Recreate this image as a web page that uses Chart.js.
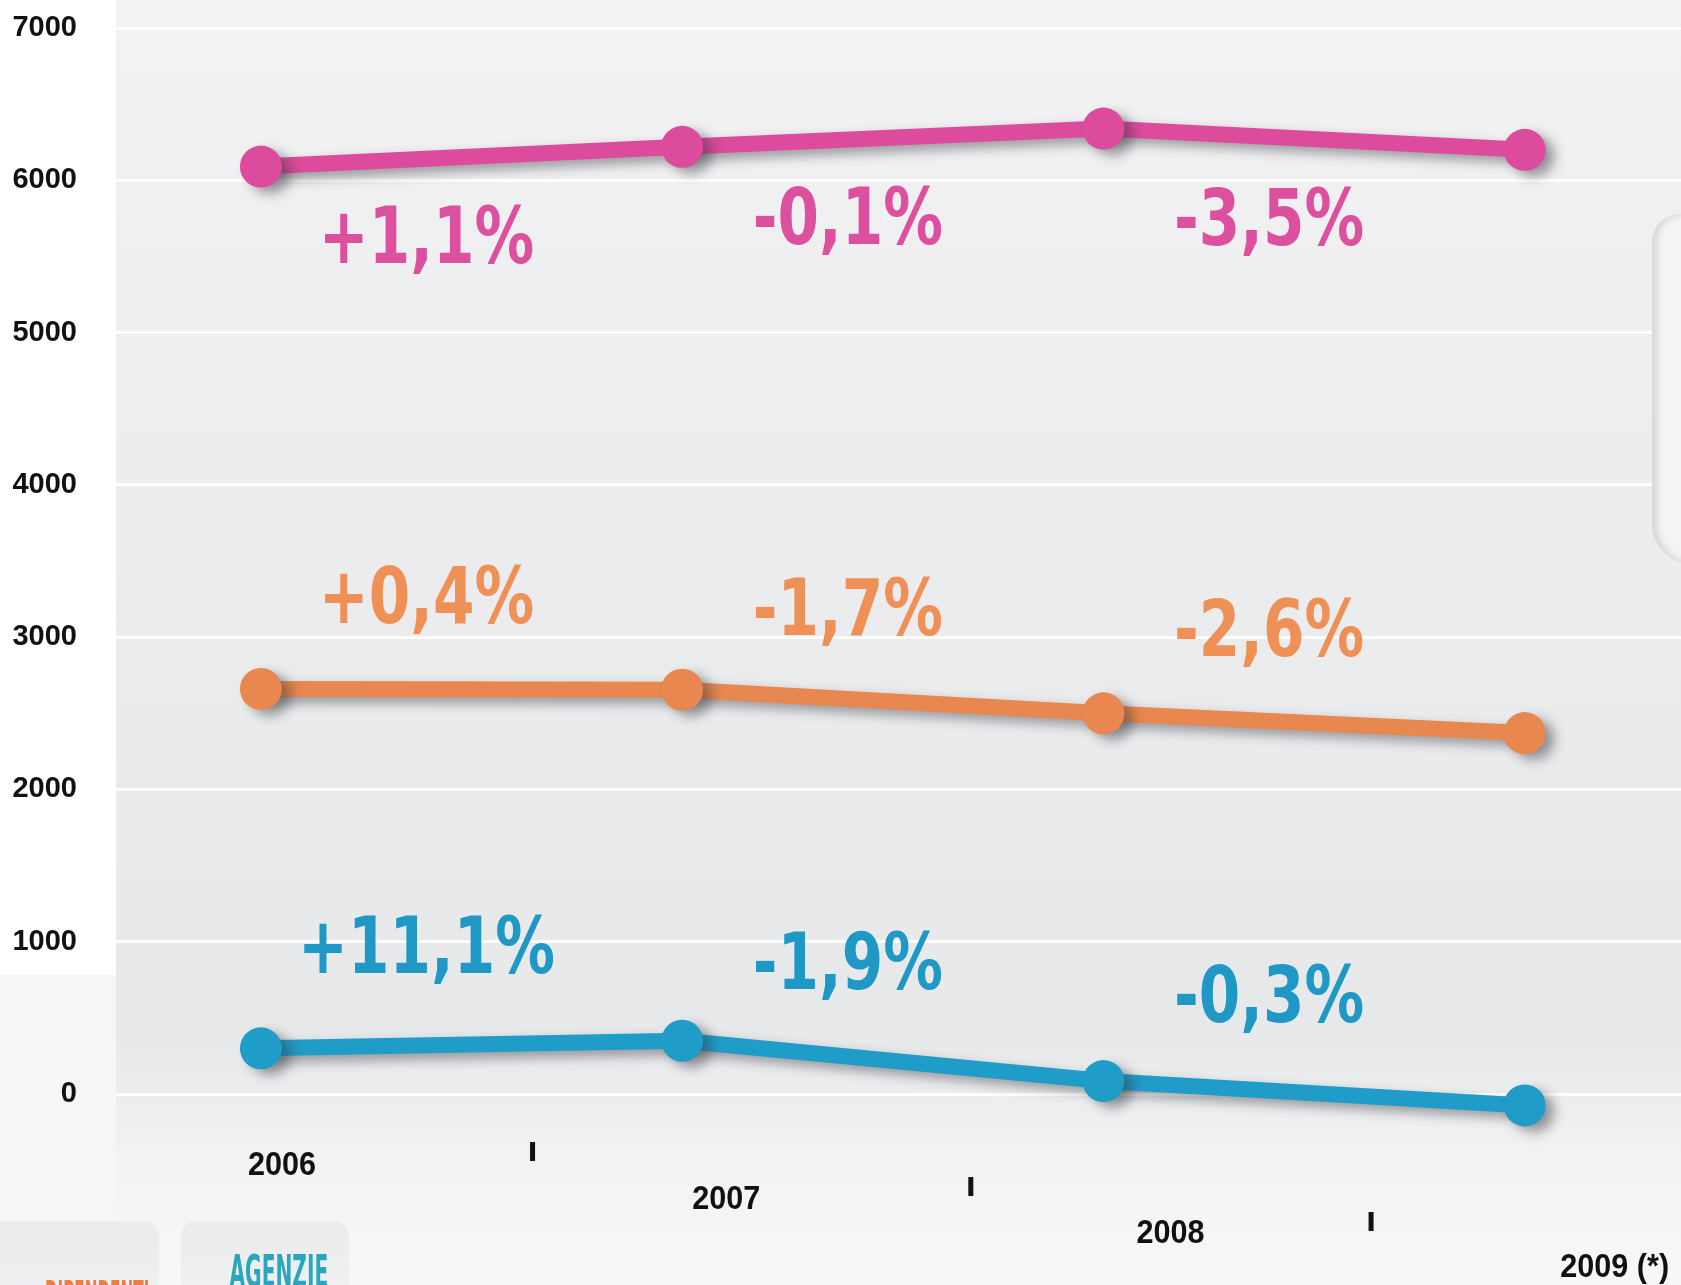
<!DOCTYPE html>
<html>
<head>
<meta charset="utf-8">
<script src="https://cdn.jsdelivr.net/npm/chart.js@4"></script>
<style>
  html, body { margin: 0; padding: 0; background: #ffffff; }
  #wrap { position: relative; width: 1681px; height: 1285px; overflow: hidden; }
  .tab {
    position: absolute; top: 1222px; height: 90px;
    border-radius: 14px 14px 0 0;
    background: linear-gradient(180deg, #e9ebec 0%, #f4f5f6 100%);
    box-shadow: 0 0 3px rgba(0,0,0,0.08);
    font-family: "DejaVu Sans Condensed", "DejaVu Sans", sans-serif;
    font-weight: bold; text-align: center; white-space: nowrap;
  }
  .tab span { display: inline-block; transform-origin: center; }
  #panel {
    position: absolute; left: 1652px; top: 214px; width: 60px; height: 350px;
    border-radius: 28px 0 0 40px;
    background: #f3f4f5;
    box-shadow: inset 5px 0 6px rgba(0,0,0,0.12);
  }
</style>
</head>
<body>
<div id="wrap">
  <canvas id="trendChart"></canvas>
  <div id="panel"></div>
  <div class="tab" style="left:-14px; width:172px; color:#ec7f3f; font-size:36px; line-height:36px; padding-top:54px;"><span style="transform: scaleX(0.47);">DIPENDENTI</span></div>
  <div class="tab" style="left:182px; width:166px; color:#2aa6bf; font-size:44px; line-height:44px; padding-top:28px;"><span style="transform: scaleX(0.51);">AGENZIE</span></div>
</div>
<script>
const years = [2006, 2007, 2008, 2009];
const yearLabels = ['2006', '2007', '2008', '2009 (*)'];
const yTicks = [0, 1000, 2000, 3000, 4000, 5000, 6000, 7000];

const pinkValues = [6090, 6220, 6340, 6200];
const orangeValues = [2660, 2655, 2500, 2370];
const blueValues = [300, 350, 85, -75];

const pinkChanges = ['+1,1%', '-0,1%', '-3,5%'];
const orangeChanges = ['+0,4%', '-1,7%', '-2,6%'];
const blueChanges = ['+11,1%', '-1,9%', '-0,3%'];

const condensed = '"DejaVu Sans Condensed", "DejaVu Sans", sans-serif';
const plain = '"Liberation Sans", Arial, sans-serif';

function series(label, values, color, changes, labelColor, labelOffset) {
  return {
    label: label,
    data: years.map((y, i) => ({ x: y, y: values[i] })),
    borderColor: color,
    backgroundColor: color,
    pointBackgroundColor: color,
    borderWidth: 16,
    borderCapStyle: 'round',
    borderJoinStyle: 'round',
    pointRadius: 21,
    pointBorderWidth: 0,
    tension: 0,
    clip: false,
    changes: changes,
    labelColor: labelColor,
    labelOffset: labelOffset
  };
}

// grey backdrop behind the plot
const backdrop = {
  id: 'backdrop',
  beforeDraw(chart) {
    const { ctx, chartArea } = chart;
    ctx.save();
    ctx.fillStyle = '#ffffff';
    ctx.fillRect(0, 0, chart.width, chart.height);
    ctx.fillStyle = '#f6f6f6';
    ctx.fillRect(0, 975, chartArea.left, chart.height - 975);
    const g = ctx.createLinearGradient(0, 0, 0, chart.height);
    g.addColorStop(0, '#f2f2f3');
    g.addColorStop(0.8, '#e7e8ea');
    g.addColorStop(0.9, '#f1f2f3');
    g.addColorStop(1, '#f8f8f8');
    ctx.fillStyle = g;
    ctx.fillRect(chartArea.left, 0, chartArea.right - chartArea.left, chart.height);
    ctx.restore();
  }
};

// soft drop shadow under the lines
const shadow = {
  id: 'shadow',
  beforeDatasetDraw(chart) {
    const ctx = chart.ctx;
    ctx.save();
    ctx.shadowColor = 'rgba(50, 50, 60, 0.45)';
    ctx.shadowBlur = 12;
    ctx.shadowOffsetX = 9;
    ctx.shadowOffsetY = 6;
  },
  afterDatasetDraw(chart) {
    chart.ctx.restore();
  }
};

function squeezedText(ctx, txt, x, y, sx) {
  ctx.save();
  ctx.translate(x, y);
  ctx.scale(sx, 1);
  ctx.fillText(txt, 0, 0);
  ctx.restore();
}

// percentage change between consecutive years + x axis labels
const annotations = {
  id: 'annotations',
  afterDatasetsDraw(chart) {
    const { ctx } = chart;
    const xs = chart.scales.x;
    const ys = chart.scales.y;
    ctx.save();
    ctx.textAlign = 'center';
    ctx.textBaseline = 'middle';
    ctx.font = 'bold 78px ' + condensed;
    chart.data.datasets.forEach((ds) => {
      ds.changes.forEach((txt, i) => {
        const a = ds.data[i], b = ds.data[i + 1];
        const x = (xs.getPixelForValue(a.x) + xs.getPixelForValue(b.x)) / 2 - 45;
        const y = (ys.getPixelForValue(a.y) + ys.getPixelForValue(b.y)) / 2 + ds.labelOffset;
        ctx.fillStyle = ds.labelColor;
        squeezedText(ctx, txt, x, y, 0.85);
      });
    });

    const base = ys.getPixelForValue(0);
    ctx.fillStyle = '#111111';
    ctx.font = 'bold 34px ' + plain;
    years.forEach((yr, i) => {
      squeezedText(ctx, yearLabels[i], xs.getPixelForValue(yr) + 21 + 23 * i, base + 72 + 34 * i, 0.9);
    });
    const markShift = [61, 78, 57];
    years.slice(0, 3).forEach((yr, i) => {
      const x = xs.getPixelForValue(yr + 0.5) + markShift[i];
      ctx.fillRect(x - 2.5, base + 48 + 35 * i, 5, 19);
    });
    ctx.restore();
  }
};

new Chart(document.getElementById('trendChart'), {
  type: 'line',
  data: {
    datasets: [
      series('Serie 1', pinkValues, '#dc4b9c', pinkChanges, '#dd4f9f', 86),
      series('Dipendenti', orangeValues, '#e8874f', orangeChanges, '#ef9157', -87),
      series('Agenzie', blueValues, '#1f9dc8', blueChanges, '#1f98c6', -92)
    ]
  },
  options: {
    responsive: true,
    maintainAspectRatio: false,
    animation: false,
    layout: { padding: 0, autoPadding: false },
    plugins: {
      legend: { display: false },
      tooltip: { enabled: false }
    },
    scales: {
      x: {
        type: 'linear',
        display: false,
        min: 2005.656,
        max: 2009.371
      },
      y: {
        type: 'linear',
        min: -1254,
        max: 7184,
        afterBuildTicks: (scale) => { scale.ticks = yTicks.map((v) => ({ value: v })); },
        afterFit: (scale) => {
          scale.width = 116;
          scale.paddingTop = 0;
          scale.paddingBottom = 0;
        },
        border: { display: false },
        grid: {
          color: '#ffffff',
          lineWidth: 3,
          drawTicks: false
        },
        ticks: {
          padding: 39,
          color: '#111111',
          font: { family: plain, weight: 'bold', size: 29 },
          callback: (v) => String(v)
        }
      }
    }
  },
  plugins: [backdrop, shadow, annotations]
});
</script>
</body>
</html>
